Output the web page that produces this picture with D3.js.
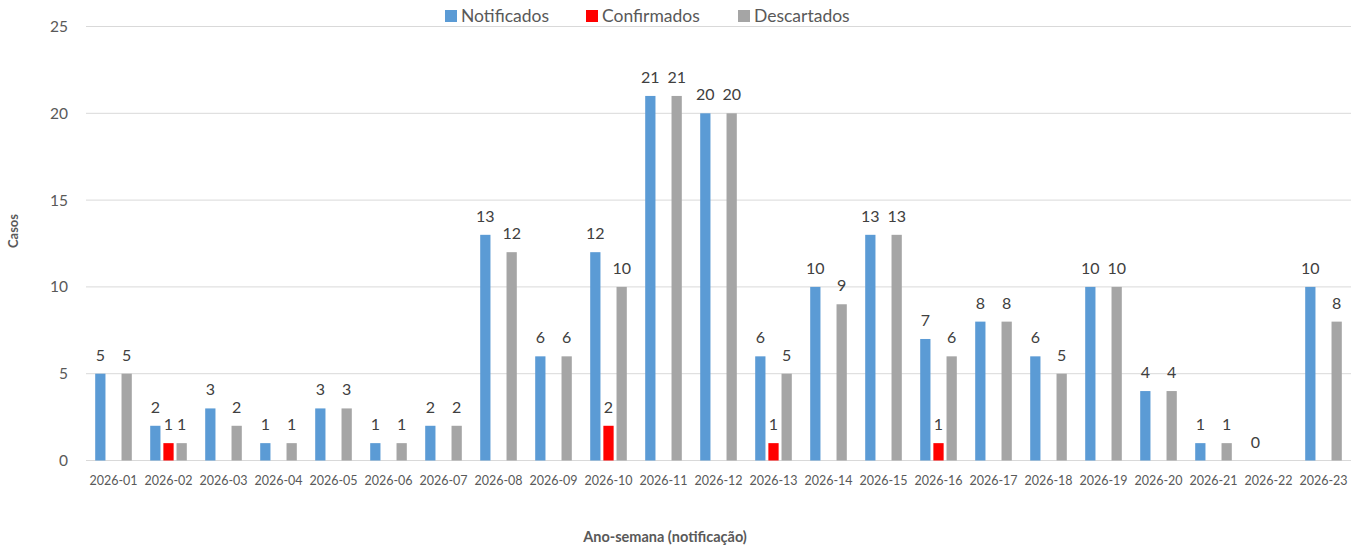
<!DOCTYPE html>
<html><head><meta charset="utf-8">
<script src="https://cdn.jsdelivr.net/npm/d3@7"></script>
<style>body{margin:0;background:#fff;} svg{display:block;font-family:Lato,"Open Sans",sans-serif;}</style>
</head><body>
<svg id="c" width="1363" height="548"></svg>
<script>
const categories = ["2026-01","2026-02","2026-03","2026-04","2026-05","2026-06","2026-07","2026-08","2026-09","2026-10","2026-11","2026-12","2026-13","2026-14","2026-15","2026-16","2026-17","2026-18","2026-19","2026-20","2026-21","2026-22","2026-23"];
const notificados = [5,2,3,1,3,1,2,13,6,12,21,20,6,10,13,7,8,6,10,4,1,0,10];
const confirmados = [null,1,null,null,null,null,null,null,null,2,null,null,1,null,null,1,null,null,null,null,null,null,null];
const descartados = [5,1,2,1,3,1,2,12,6,10,21,20,5,9,13,6,8,5,10,4,1,null,8];
const seriesNames = ["Notificados","Confirmados","Descartados"];
const seriesColors = ["#5B9BD5","#FF0000","#A5A5A5"];
const yTicks = [0,5,10,15,20,25];

(function(){
const svg = d3.select("#c");
const pLeft = 86, pRight = 1351, pTop = 26.5, pBottom = 460.5;
const x = d3.scaleBand().domain(categories).range([pLeft, pRight]);
const y = d3.scaleLinear().domain([0,25]).range([pBottom, pTop]);
const sub = d3.scaleBand().domain(seriesNames).range([0, 36.6]).paddingInner(0.22);
const groupOff = (x.bandwidth() - 36.6) / 2;

svg.append("g").selectAll("line").data(yTicks).join("line")
  .attr("x1", pLeft).attr("x2", pRight)
  .attr("y1", d => y(d)).attr("y2", d => y(d))
  .attr("stroke", "#D9D9D9").attr("stroke-width", 1);

svg.append("g").selectAll("text").data(yTicks).join("text")
  .attr("x", 68).attr("y", d => y(d)).attr("dy", "0.35em")
  .attr("text-anchor", "end").attr("font-size", 15.5).attr("fill", "#595959")
  .text(d => d);

svg.append("g").selectAll("text").data(categories).join("text")
  .attr("x", d => x(d) + x.bandwidth()/2).attr("y", 485)
  .attr("text-anchor", "middle").attr("font-size", 12.5).attr("fill", "#595959")
  .text(d => d);

const all = [notificados, confirmados, descartados];
all.forEach((vals, si) => {
  const name = seriesNames[si];
  const pts = categories.map((c, i) => ({c, v: vals[i]})).filter(p => p.v !== null);
  const g = svg.append("g");
  g.selectAll("rect").data(pts).join("rect")
    .attr("x", p => x(p.c) + groupOff + sub(name))
    .attr("width", sub.bandwidth())
    .attr("y", p => y(p.v))
    .attr("height", p => y(0) - y(p.v))
    .attr("fill", seriesColors[si]);
  g.selectAll("text").data(pts).join("text")
    .attr("x", p => x(p.c) + groupOff + sub(name) + sub.bandwidth()/2)
    .attr("y", p => y(p.v) - 13)
    .attr("text-anchor", "middle").attr("font-size", 16).attr("fill", "#404040")
    .text(p => p.v);
});

const legX = [445, 586, 738];
seriesNames.forEach((n, i) => {
  svg.append("rect").attr("x", legX[i]).attr("y", 10).attr("width", 12).attr("height", 12).attr("fill", seriesColors[i]);
  svg.append("text").attr("x", legX[i] + 16).attr("y", 16).attr("dy", "0.35em")
    .attr("font-size", 17.5).attr("fill", "#595959").text(n);
});

svg.append("text").attr("transform", "translate(18,231) rotate(-90)")
  .attr("text-anchor", "middle").attr("font-size", 13).attr("font-weight", "bold").attr("fill", "#595959").text("Casos");
svg.append("text").attr("x", 665).attr("y", 542)
  .attr("text-anchor", "middle").attr("font-size", 14.5).attr("font-weight", "bold").attr("fill", "#595959").text("Ano-semana (notificação)");
})();
</script>
</body></html>
